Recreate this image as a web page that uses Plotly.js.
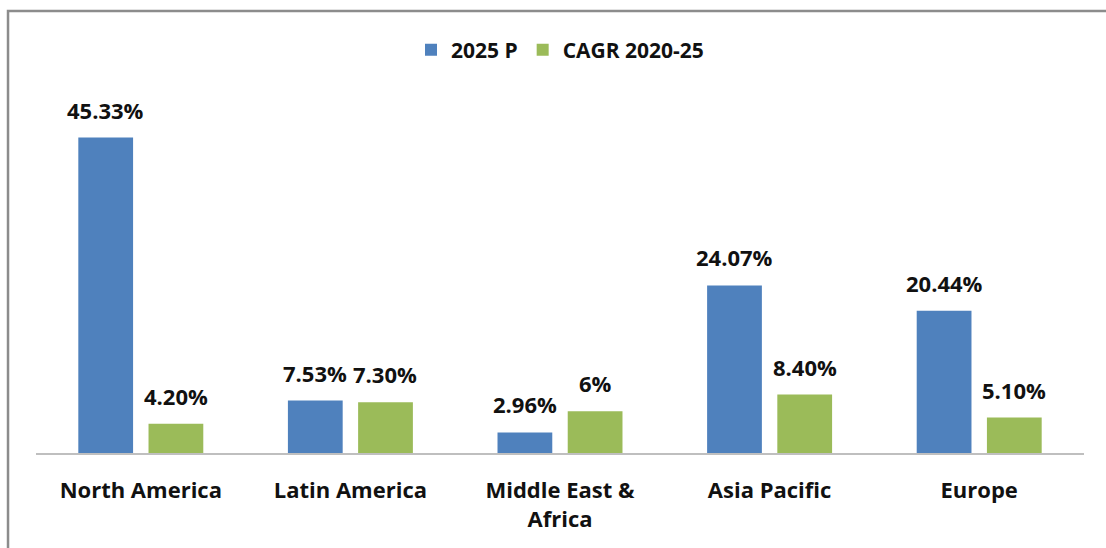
<!DOCTYPE html>
<html><head><meta charset="utf-8">
<script src="https://cdn.plot.ly/plotly-3.0.1.min.js"></script>
<style>html,body{margin:0;padding:0;background:#fff;}#chart{width:1106px;height:548px;}</style>
</head><body><div id="chart"></div>
<script>
const categories = ["North America", "Latin America", "Middle East &<br>Africa", "Asia Pacific", "Europe"];
const share2025 = [45.33, 7.53, 2.96, 24.07, 20.44];
const cagr = [4.20, 7.30, 6, 8.40, 5.10];
const shareLabels = ["45.33%", "7.53%", "2.96%", "24.07%", "20.44%"];
const cagrLabels = ["4.20%", "7.30%", "6%", "8.40%", "5.10%"];
const seriesNames = ["2025 P", "CAGR 2020-25"];

const FONT = "Open Sans, Lato, Liberation Sans, sans-serif";
const blue = "#4F81BD", green = "#9BBB59";

const traces = [
  {type: "bar", name: seriesNames[0], x: categories, y: share2025, marker: {color: blue}, hoverinfo: "none"},
  {type: "bar", name: seriesNames[1], x: categories, y: cagr, marker: {color: green}, hoverinfo: "none"}
];

const annotations = [];
categories.forEach((c, i) => {
  annotations.push({x: c, y: share2025[i], text: shareLabels[i], showarrow: false, xref: "x", yref: "y",
    xanchor: "center", yanchor: "bottom", xshift: -35, yshift: 11, font: {family: FONT, size: 22, color: "#111"}});
  annotations.push({x: c, y: cagr[i], text: cagrLabels[i], showarrow: false, xref: "x", yref: "y",
    xanchor: "center", yanchor: "bottom", xshift: 35, yshift: 11, font: {family: FONT, size: 22, color: "#111"}});
});

const layout = {
  width: 1106, height: 548,
  margin: {l: 36, r: 22, t: 105, b: 95},
  paper_bgcolor: "#fff", plot_bgcolor: "#fff",
  barmode: "group", bargap: 0.33, bargroupgap: 0.22,
  font: {family: FONT, size: 22, color: "#111", weight: "bold"},
  xaxis: {type: "category", showline: true, linecolor: "#BFBFBF", linewidth: 2, ticks: "", showgrid: false,
    ticklabelstandoff: 17,
    tickfont: {family: FONT, size: 22, color: "#111", weight: "bold"}, fixedrange: true},
  yaxis: {range: [0, 50], visible: false, showgrid: false, zeroline: false, fixedrange: true},
  legend: {orientation: "h", x: 0.5, xanchor: "center", y: 1.158, yanchor: "middle",
    font: {family: FONT, size: 21, color: "#111", weight: "bold"}, itemclick: false, itemdoubleclick: false},
  annotations: annotations,
  shapes: [{type: "rect", xref: "paper", yref: "paper", x0: -0.0267, x1: 1.2, y0: -0.6, y1: 1.27,
    line: {color: "#8C8C8C", width: 2.5}, fillcolor: "rgba(0,0,0,0)", layer: "above"}],
  showlegend: true
};

Plotly.newPlot("chart", traces, layout, {displayModeBar: false, staticPlot: true});
</script></body></html>
